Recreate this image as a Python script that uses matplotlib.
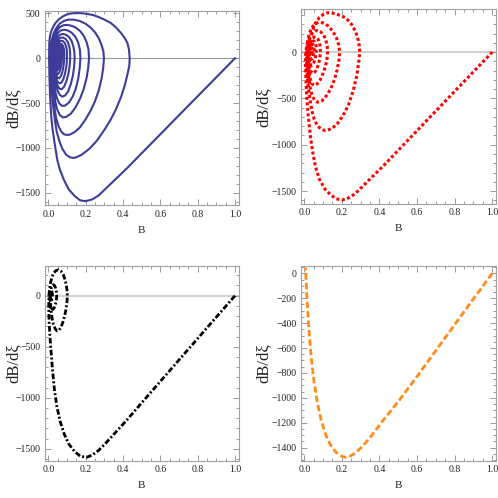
import numpy as np
import matplotlib
matplotlib.use('Agg')
import matplotlib.pyplot as plt
from matplotlib.ticker import MultipleLocator, FormatStrFormatter

plt.rcParams['font.family'] = ['Liberation Serif', 'DejaVu Serif']

# ---- data: (B, dB/dxi) along each trajectory ----
# panel 1 (solid blue): many loops spiralling in
p1_points = [
    (1.0, 0), (0.9, -212), (0.8, -424), (0.7, -636), (0.6, -848), (0.5, -1060),
    (0.42, -1230), (0.36, -1350), (0.31, -1450), (0.27, -1530), (0.235, -1575),
    (0.2, -1595), (0.17, -1585), (0.14, -1535), (0.11, -1465), (0.084, -1360),
    (0.063, -1250), (0.048, -1135), (0.031, -912), (0.022, -780), (0.016, -660),
    (0.01, -450), (0.006, -220), (0.004, 0),
    # loop 1
    (0.005, 174), (0.009, 250), (0.016, 305), (0.027, 355), (0.04, 398), (0.057, 435),
    (0.075, 464), (0.097, 487), (0.12, 500), (0.155, 505), (0.185, 502), (0.209, 495),
    (0.24, 482), (0.27, 460), (0.3, 432), (0.334, 395), (0.362, 345), (0.388, 286),
    (0.408, 230), (0.423, 174), (0.432, 100), (0.436, 0),
    (0.434, -80), (0.425, -170), (0.41, -300), (0.39, -430), (0.36, -580), (0.33, -700),
    (0.3, -800), (0.26, -920), (0.22, -1010), (0.18, -1075), (0.15, -1105), (0.135, -1112),
    (0.115, -1105), (0.095, -1075), (0.075, -1010), (0.06, -930), (0.045, -820),
    (0.035, -690), (0.025, -520), (0.018, -340), (0.013, -170), (0.011, 0),
    # loop 2
    (0.012, 70), (0.014, 140), (0.019, 210), (0.027, 270), (0.04, 330), (0.06, 385),
    (0.085, 418), (0.11, 432), (0.14, 430), (0.17, 415), (0.2, 385), (0.225, 345),
    (0.25, 290), (0.27, 225), (0.285, 150), (0.295, 75), (0.298, 0),
    (0.294, -110), (0.285, -230), (0.27, -360), (0.25, -480), (0.225, -590), (0.2, -680),
    (0.17, -770), (0.14, -825), (0.115, -852), (0.1, -856), (0.085, -850), (0.07, -820),
    (0.055, -760), (0.042, -670), (0.032, -540), (0.024, -390), (0.018, -220),
    (0.016, -100), (0.016, 0),
    # loop 3
    (0.018, 100), (0.023, 180), (0.032, 250), (0.045, 305), (0.06, 345), (0.08, 368),
    (0.1, 372), (0.12, 365), (0.145, 345), (0.17, 305), (0.19, 250), (0.205, 180),
    (0.215, 100), (0.218, 0),
    (0.214, -100), (0.205, -220), (0.19, -340), (0.17, -450), (0.145, -550), (0.12, -620),
    (0.095, -655), (0.078, -660), (0.062, -635), (0.048, -575), (0.037, -480),
    (0.029, -360), (0.024, -220), (0.021, -100), (0.02, 0),
    # loop 4
    (0.022, 90), (0.028, 170), (0.038, 240), (0.052, 285), (0.068, 312), (0.085, 318),
    (0.105, 310), (0.125, 285), (0.145, 240), (0.16, 175), (0.169, 95), (0.172, 0),
    (0.168, -110), (0.16, -230), (0.147, -340), (0.13, -430), (0.11, -495), (0.09, -528),
    (0.074, -532), (0.059, -505), (0.047, -450), (0.037, -370), (0.03, -270),
    (0.026, -160), (0.024, -70), (0.023, 0),
    # loop 5
    (0.026, 90), (0.033, 170), (0.045, 225), (0.06, 260), (0.077, 272), (0.095, 262),
    (0.112, 235), (0.125, 190), (0.135, 125), (0.14, 60), (0.141, 0),
    (0.138, -100), (0.131, -200), (0.12, -290), (0.106, -370), (0.09, -415), (0.075, -428),
    (0.062, -410), (0.05, -365), (0.041, -300), (0.034, -215), (0.03, -120),
    (0.028, -50), (0.027, 0),
    # loop 6
    (0.03, 80), (0.037, 150), (0.048, 200), (0.062, 228), (0.078, 232), (0.093, 215),
    (0.105, 180), (0.113, 125), (0.117, 60), (0.117, 0),
    (0.114, -90), (0.107, -180), (0.097, -255), (0.085, -315), (0.072, -345), (0.06, -340),
    (0.049, -305), (0.041, -250), (0.035, -180), (0.031, -100), (0.03, 0),
    # loop 7
    (0.033, 75), (0.04, 135), (0.05, 175), (0.063, 196), (0.076, 194), (0.088, 172),
    (0.096, 130), (0.1, 70), (0.1, 0),
    (0.097, -85), (0.09, -165), (0.081, -230), (0.07, -272), (0.059, -280), (0.049, -260),
    (0.041, -215), (0.036, -150), (0.033, -75), (0.032, 0),
    # loop 8
    (0.035, 65), (0.041, 115), (0.05, 150), (0.061, 166), (0.071, 160), (0.079, 138),
    (0.084, 100), (0.086, 50), (0.085, 0),
    (0.082, -75), (0.076, -145), (0.068, -195), (0.059, -222), (0.05, -220), (0.043, -190),
    (0.038, -140), (0.035, -75), (0.034, 0),
    # loops 9 and on
    (0.037, 60), (0.043, 105), (0.052, 135), (0.061, 142), (0.069, 130), (0.074, 100),
    (0.075, 55), (0.073, 0),
    (0.07, -65), (0.064, -125), (0.057, -165), (0.05, -178), (0.044, -162), (0.039, -125),
    (0.036, -65), (0.036, 0),
    (0.039, 52), (0.045, 92), (0.053, 114), (0.06, 115), (0.065, 95), (0.066, 55), (0.063, 0),
    (0.06, -55), (0.055, -105), (0.049, -135), (0.044, -135), (0.04, -105), (0.038, -55),
    (0.038, 0),
    (0.041, 48), (0.046, 80), (0.052, 92), (0.057, 80), (0.058, 45), (0.056, 0),
    (0.053, -45), (0.049, -85), (0.045, -100), (0.041, -82), (0.04, -40), (0.04, 0),
    (0.043, 40), (0.047, 65), (0.051, 65), (0.053, 40), (0.052, 0), (0.049, -35),
    (0.046, -55), (0.043, -45), (0.042, -15), (0.043, 15), (0.046, 35), (0.049, 30),
    (0.049, 0), (0.047, -20), (0.045, -20), (0.045, 0),
]

# panel 2 (red dotted): fewer loops
p2_points = [
    (1.0, 0), (0.9, -212), (0.8, -424), (0.7, -636), (0.6, -848), (0.5, -1060),
    (0.42, -1230), (0.36, -1350), (0.31, -1450), (0.27, -1530), (0.235, -1575),
    (0.205, -1595), (0.17, -1585), (0.14, -1540), (0.11, -1480), (0.08, -1370),
    (0.06, -1240), (0.045, -1080), (0.032, -900), (0.022, -700), (0.013, -480),
    (0.008, -250), (0.006, -100), (0.008, 0),
    (0.015, 80), (0.027, 150), (0.04, 220), (0.053, 283), (0.065, 330), (0.08, 372),
    (0.1, 405), (0.124, 425), (0.15, 420), (0.17, 410), (0.2, 390), (0.222, 365),
    (0.24, 330), (0.255, 290), (0.275, 211), (0.287, 130), (0.293, 60), (0.295, 0),
    (0.29, -100), (0.28, -250), (0.26, -420), (0.235, -570), (0.205, -690), (0.175, -775),
    (0.15, -820), (0.125, -843), (0.112, -846), (0.095, -838), (0.08, -815), (0.065, -775),
    (0.053, -725), (0.043, -650), (0.036, -580), (0.028, -480), (0.022, -390),
    (0.017, -290), (0.014, -210), (0.012, -100), (0.012, 0),
    (0.016, 100), (0.025, 190), (0.04, 265), (0.06, 310), (0.08, 322), (0.1, 315),
    (0.125, 285), (0.15, 230), (0.17, 160), (0.183, 80), (0.188, 0),
    (0.185, -80), (0.175, -190), (0.16, -300), (0.14, -400), (0.118, -470), (0.095, -525),
    (0.071, -541), (0.055, -520), (0.042, -470), (0.032, -390), (0.025, -290),
    (0.02, -180), (0.018, -80), (0.018, 0),
    (0.022, 80), (0.03, 150), (0.042, 200), (0.057, 228), (0.072, 232), (0.088, 218),
    (0.103, 185), (0.115, 130), (0.122, 65), (0.124, 0),
    (0.121, -70), (0.113, -150), (0.1, -230), (0.085, -300), (0.068, -345), (0.052, -360),
    (0.04, -340), (0.032, -290), (0.026, -220), (0.023, -140), (0.022, -60), (0.023, 0),
    (0.026, 60), (0.032, 110), (0.041, 145), (0.052, 162), (0.063, 160), (0.073, 140),
    (0.081, 105), (0.085, 55), (0.086, 0),
    (0.083, -60), (0.077, -120), (0.068, -175), (0.057, -215), (0.046, -230), (0.037, -215),
    (0.031, -180), (0.027, -130), (0.025, -70), (0.025, 0),
    (0.028, 50), (0.033, 90), (0.041, 115), (0.049, 120), (0.057, 110), (0.062, 85),
    (0.064, 45), (0.063, 0),
    (0.06, -50), (0.054, -100), (0.047, -135), (0.039, -145), (0.033, -130), (0.029, -95),
    (0.027, -50), (0.027, 0), (0.03, 40), (0.035, 70), (0.041, 85), (0.047, 80),
    (0.051, 60), (0.052, 25), (0.05, -10), (0.046, -50), (0.041, -75), (0.036, -75),
    (0.032, -55), (0.03, -25), (0.031, 10), (0.034, 35), (0.038, 45), (0.042, 40),
    (0.044, 20), (0.043, -5), (0.04, -25), (0.037, -30), (0.035, -15), (0.036, 0),
]

# panel 3 (black dot-dashed): two loops and a knot
p3_points = [
    (1.0, 0), (0.9, -210), (0.8, -420), (0.7, -630), (0.6, -840), (0.5, -1050),
    (0.42, -1220), (0.36, -1340), (0.31, -1440), (0.27, -1515), (0.235, -1562),
    (0.205, -1584), (0.17, -1572), (0.14, -1525), (0.11, -1455), (0.085, -1355),
    (0.063, -1230), (0.045, -1080), (0.032, -910), (0.022, -720), (0.014, -530),
    (0.008, -380), (0.004, -250), (0.002, -120), (0.003, 0),
    (0.006, 60), (0.012, 130), (0.02, 185), (0.03, 225), (0.042, 248), (0.055, 253),
    (0.068, 240), (0.08, 205), (0.09, 155), (0.097, 95), (0.101, 40), (0.102, 0),
    (0.1, -60), (0.095, -130), (0.087, -200), (0.077, -265), (0.066, -315), (0.055, -342),
    (0.046, -345), (0.037, -325), (0.028, -285), (0.021, -230), (0.016, -165),
    (0.012, -100), (0.01, -40), (0.01, 0),
    (0.012, 40), (0.016, 75), (0.021, 100), (0.027, 108), (0.033, 100), (0.039, 75),
    (0.043, 40), (0.045, 0), (0.043, -40), (0.038, -85), (0.031, -120), (0.024, -135),
    (0.018, -125), (0.013, -95), (0.01, -55), (0.009, -10), (0.01, 25), (0.013, 45),
    (0.017, 50), (0.02, 35), (0.022, 10), (0.021, -20), (0.018, -45), (0.014, -55),
    (0.011, -40), (0.01, -15), (0.011, 5), (0.013, 15), (0.015, 10), (0.015, 0),
]

# panel 4 (orange dashed): no loops
p4_points = [
    (1.0, 0), (0.9, -205), (0.8, -412), (0.7, -620), (0.6, -828), (0.5, -1030),
    (0.42, -1180), (0.36, -1300), (0.31, -1390), (0.27, -1445), (0.24, -1472),
    (0.22, -1478), (0.2, -1470), (0.17, -1440), (0.14, -1380), (0.115, -1300),
    (0.09, -1180), (0.07, -1040), (0.052, -870), (0.038, -690), (0.027, -500),
    (0.019, -320), (0.013, -160), (0.009, -40), (0.007, 20), (0.006, 45),
]

x_ticks = [0.0, 0.2, 0.4, 0.6, 0.8, 1.0]

fig = plt.figure(figsize=(4.98, 4.98), dpi=100)
W = 498.0


def make_ax(l, r, t, b):
    return fig.add_axes([l / W, 1 - b / W, (r - l) / W, (b - t) / W])


def style(ax, ylim, ymajor, yminor, ylab_x):
    ax.set_xlim(-0.02, 1.02)
    ax.set_ylim(*ylim)
    ax.set_xticks(x_ticks)
    ax.xaxis.set_minor_locator(MultipleLocator(0.05))
    ax.xaxis.set_major_formatter(FormatStrFormatter('%.1f'))
    ax.yaxis.set_major_locator(MultipleLocator(ymajor))
    ax.yaxis.set_minor_locator(MultipleLocator(yminor))
    ax.tick_params(which='both', direction='in', top=True, right=True,
                   colors='#8a8a8a', labelcolor='#222222', labelsize=7, width=0.6)
    ax.tick_params(which='major', length=4, pad=3)
    ax.tick_params(which='minor', length=2)
    for s in ax.spines.values():
        s.set_color('#a0a0a0')
        s.set_linewidth(0.8)
    ax.set_xlabel('B', fontsize=8, color='#222222')
    ax.set_ylabel('dB/dξ', fontsize=12, color='#222222')
    ax.xaxis.set_label_coords(0.5, -0.105)
    ax.yaxis.set_label_coords(ylab_x, 0.5)


ax1 = make_ax(44.6, 238.7, 10.6, 205.4)
ax2 = make_ax(300.5, 496.0, 9.3, 204.0)
ax3 = make_ax(44.6, 238.7, 265.7, 460.7)
ax4 = make_ax(300.5, 496.0, 266.0, 460.7)

B, dB = zip(*p1_points)
ax1.axhline(0, color='#9a9a9a', lw=0.8, zorder=1)
ax1.plot(B, dB, color='#3d3d99', lw=1.5, solid_joinstyle='round', zorder=2)
style(ax1, (-1642, 532), 500, 100, -0.116)

B, dB = zip(*p2_points)
ax2.axhline(0, color='#d2d2d2', lw=1.5, zorder=1)
ax2.plot(B, dB, color='#ff0000', lw=2.2, linestyle=(0, (1, 0.8)),
         dash_capstyle='butt', zorder=2)
style(ax2, (-1640, 462), 500, 100, -0.146)

B, dB = zip(*p3_points)
ax3.axhline(0, color='#d2d2d2', lw=1.5, zorder=1)
ax3.plot(B, dB, color='black', lw=2.0, linestyle=(0, (2.0, 0.8, 0.7, 0.8)),
         dash_capstyle='butt', zorder=2)
style(ax3, (-1617, 294), 500, 100, -0.116)

B, dB = zip(*p4_points)
ax4.plot(B, dB, color='#ff8c1a', lw=2.0, linestyle=(0, (2.3, 1.1)),
         dash_capstyle='butt', zorder=2)
style(ax4, (-1505, 59), 200, 50, -0.146)

fig.savefig('out.png', dpi=100)
